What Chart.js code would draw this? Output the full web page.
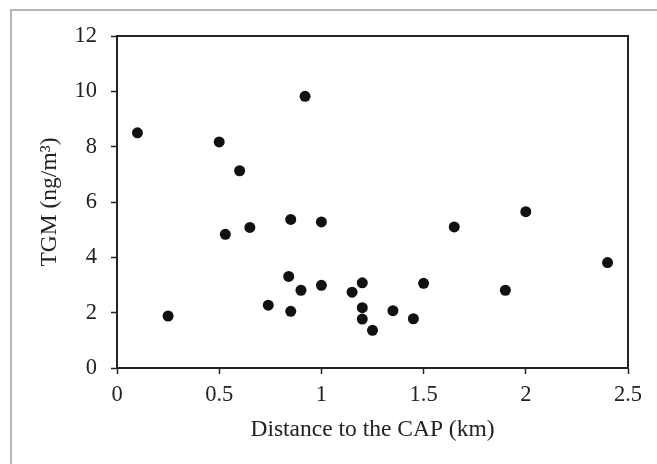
<!DOCTYPE html>
<html lang="en">
<head>
    <meta charset="UTF-8">
    <title>TGM vs distance to the CAP</title>
    <style>
        body {
            margin: 0;
            padding: 0;
            background-color: #ffffff;
        }

        #frame {
            position: absolute;
            left: 10px;
            top: 9px;
            width: 700px;
            height: 500px;
            border-top: 2px solid #b5b5b5;
            border-left: 2px solid #b5b5b5;
        }

        #chart-container {
            position: absolute;
            left: 0;
            top: 0;
            width: 657px;
            height: 464px;
        }
    </style>
</head>
<body>
    <div id="frame"></div>
    <div id="chart-container">
        <canvas id="tgmChart" width="657" height="464"></canvas>
    </div>

    <script src="https://cdn.jsdelivr.net/npm/chart.js"></script>
    <script>
        // Values
        const distance = [0.1, 0.25, 0.5, 0.6, 0.53, 0.65, 0.85, 1.0, 0.84, 0.9, 1.0, 0.74, 0.85,
                          1.15, 1.2, 1.2, 1.2, 1.25, 1.35, 1.45, 1.5, 1.65, 1.9, 2.0, 2.4, 0.92];
        const tgm = [8.5, 1.88, 8.17, 7.13, 4.83, 5.08, 5.37, 5.28, 3.31, 2.81, 2.99, 2.27, 2.05,
                     2.74, 3.08, 2.18, 1.77, 1.36, 2.07, 1.78, 3.06, 5.1, 2.81, 5.65, 3.81, 9.82];

        const xTickLabels = ['0', '0.5', '1', '1.5', '2', '2.5'];
        const yTickLabels = ['0', '2', '4', '6', '8', '10', '12'];

        const points = distance.map((d, i) => ({ x: d, y: tgm[i] }));

        const serif = 'Liberation Serif, Times New Roman, serif';

        // box around the plot area (top and right edges)
        const plotFrame = {
            id: 'plotFrame',
            beforeDatasetsDraw(chart) {
                const { ctx, chartArea } = chart;
                ctx.save();
                ctx.strokeStyle = '#222222';
                ctx.lineWidth = 2;
                ctx.strokeRect(chartArea.left, chartArea.top,
                               chartArea.right - chartArea.left, chartArea.bottom - chartArea.top);
                ctx.restore();
            }
        };

        const ctx = document.getElementById('tgmChart').getContext('2d');
        new Chart(ctx, {
            type: 'scatter',
            data: {
                datasets: [{
                    data: points,
                    backgroundColor: '#111111',
                    borderWidth: 0,
                    pointRadius: 5.5,
                    pointHoverRadius: 5.5
                }]
            },
            options: {
                responsive: false,
                animation: false,
                layout: {
                    padding: { left: 0, right: 29, top: 36, bottom: 0 }
                },
                plugins: {
                    legend: { display: false },
                    tooltip: { enabled: false }
                },
                scales: {
                    x: {
                        type: 'linear',
                        min: 0,
                        max: 2.5,
                        afterFit: scale => { scale.height = 96; },
                        border: { color: '#222222', width: 2 },
                        grid: {
                            drawOnChartArea: false,
                            tickLength: 6,
                            tickColor: '#222222',
                            tickWidth: 1.5
                        },
                        ticks: {
                            stepSize: 0.5,
                            padding: 8,
                            color: '#222222',
                            font: { family: serif, size: 22.5 },
                            maxRotation: 0,
                            callback: (v, i) => xTickLabels[i]
                        },
                        title: {
                            display: true,
                            text: 'Distance to the CAP (km)',
                            color: '#222222',
                            font: { family: serif, size: 23.5 },
                            padding: 20
                        }
                    },
                    y: {
                        min: 0,
                        max: 12,
                        afterFit: scale => { scale.width = 117; },
                        border: { color: '#222222', width: 2 },
                        grid: {
                            drawOnChartArea: false,
                            tickLength: 6,
                            tickColor: '#222222',
                            tickWidth: 1.5
                        },
                        ticks: {
                            stepSize: 2,
                            padding: 14,
                            color: '#222222',
                            font: { family: serif, size: 22.5 },
                            callback: (v, i) => yTickLabels[i]
                        },
                        title: {
                            display: true,
                            text: 'TGM (ng/m³)',
                            color: '#222222',
                            font: { family: serif, size: 23.5 },
                            padding: 36
                        }
                    }
                }
            },
            plugins: [plotFrame]
        });
    </script>
</body>
</html>
